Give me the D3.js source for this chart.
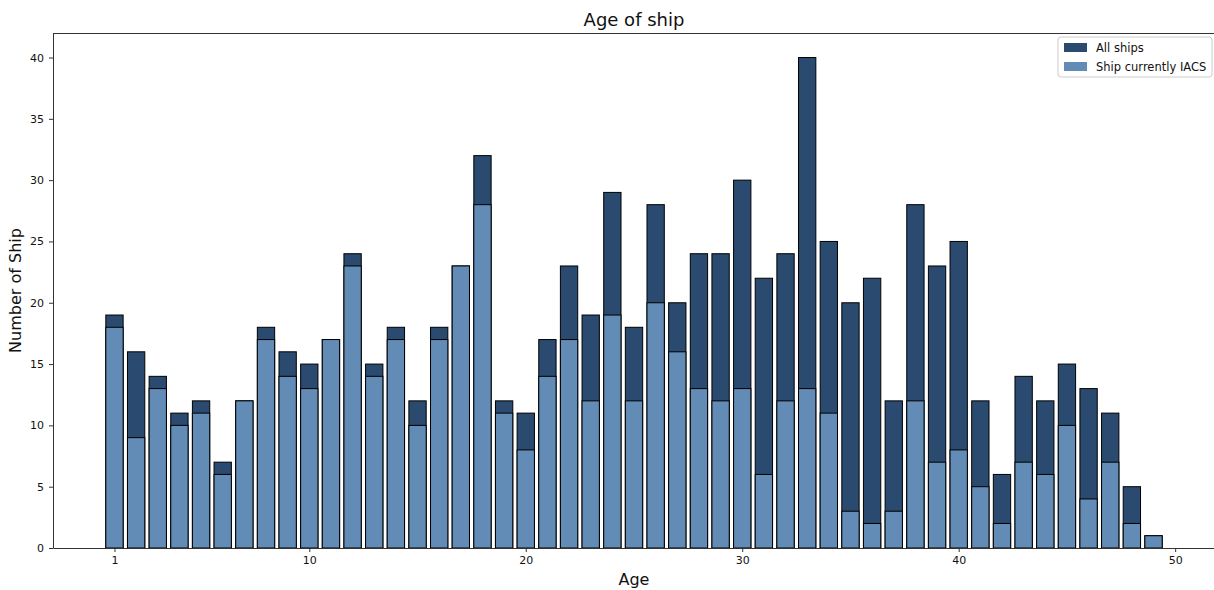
<!DOCTYPE html>
<meta charset="utf-8">
<script src="https://d3js.org/d3.v7.min.js"></script>
<style>
  body { margin: 0; background: #fff; }
  text { font-family: "DejaVu Sans", sans-serif; fill: #111; }
</style>
<div id="chart"></div>
<script>
// ages 1..49
var ages = d3.range(1, 50);
var allShips = [19,16,14,11,12,7,12,18,16,15,17,24,15,18,12,18,23,32,12,11,
                17,23,19,29,18,28,20,24,24,30,22,24,40,25,20,22,12,28,23,25,
                12,6,14,12,15,13,11,5,1];
var iacsShips = [18,9,13,10,11,6,12,17,14,13,17,23,14,17,10,17,23,28,11,8,
                 14,17,12,19,12,20,16,13,12,13,6,12,13,11,3,2,3,12,7,8,
                 5,2,7,6,10,4,7,2,1];
var xTicks = [1, 10, 20, 30, 40, 50];
var yTicks = [0, 5, 10, 15, 20, 25, 30, 35, 40];

var W = 1214, H = 590;
var margin = {top: 33, left: 53, bottom: 42};

var svg = d3.select("#chart").append("svg")
    .attr("width", W).attr("height", H);

var x = d3.scaleLinear().domain([-1.84, 51.84]).range([margin.left, margin.left + 1162]);
var y = d3.scaleLinear().domain([0, 42]).range([H - margin.bottom, margin.top]);
var bw = x(0.8) - x(0);

var dark = "#2a4a6f", light = "#628bb6";

// all ships
svg.selectAll(".all").data(ages).enter().append("rect")
    .attr("x", function(d, i) { return x(d - 0.4); })
    .attr("y", function(d, i) { return y(allShips[i]); })
    .attr("width", bw)
    .attr("height", function(d, i) { return y(0) - y(allShips[i]); })
    .attr("fill", dark).attr("stroke", "#000").attr("stroke-width", 1);

// ship currently IACS
svg.selectAll(".iacs").data(ages).enter().append("rect")
    .attr("x", function(d, i) { return x(d - 0.4); })
    .attr("y", function(d, i) { return y(iacsShips[i]); })
    .attr("width", bw)
    .attr("height", function(d, i) { return y(0) - y(iacsShips[i]); })
    .attr("fill", light).attr("stroke", "#000").attr("stroke-width", 1);

// axes
var xAxis = svg.append("g")
    .attr("transform", "translate(0," + y(0) + ")")
    .call(d3.axisBottom(x).tickValues(xTicks).tickSize(4).tickPadding(4).tickSizeOuter(0));
var yAxis = svg.append("g")
    .attr("transform", "translate(" + margin.left + ",0)")
    .call(d3.axisLeft(y).tickValues(yTicks).tickSize(4).tickPadding(5).tickSizeOuter(0));
[xAxis, yAxis].forEach(function(a) {
  a.selectAll("text").style("font-size", "11px").style("font-family", "DejaVu Sans");
  a.select(".domain").attr("stroke", "#333").attr("stroke-width", 1);
  a.selectAll(".tick line").attr("stroke", "#333");
});

// top spine
svg.append("line")
    .attr("x1", margin.left).attr("x2", W)
    .attr("y1", margin.top + 0.5).attr("y2", margin.top + 0.5)
    .attr("stroke", "#333").attr("stroke-width", 1);

// title and labels
svg.append("text").attr("x", 634).attr("y", 26).attr("text-anchor", "middle")
    .style("font-size", "18px").text("Age of ship");
svg.append("text").attr("x", 634).attr("y", 585).attr("text-anchor", "middle")
    .style("font-size", "16px").text("Age");
svg.append("text")
    .attr("transform", "translate(21," + ((margin.top + y(0)) / 2) + ") rotate(-90)")
    .attr("text-anchor", "middle")
    .style("font-size", "16px").text("Number of Ship");

// legend
var lg = svg.append("g").attr("transform", "translate(1058,37)");
lg.append("rect").attr("width", 154).attr("height", 40).attr("rx", 3)
    .attr("fill", "#fff").attr("fill-opacity", 0.8).attr("stroke", "#ccc");
var legendItems = [["All ships", dark], ["Ship currently IACS", light]];
legendItems.forEach(function(it, i) {
  lg.append("rect").attr("x", 6).attr("y", 6 + i * 19).attr("width", 23).attr("height", 9)
      .attr("fill", it[1]);
  lg.append("text").attr("x", 38).attr("y", 15 + i * 19)
      .style("font-size", "11.5px").text(it[0]);
});
</script>
